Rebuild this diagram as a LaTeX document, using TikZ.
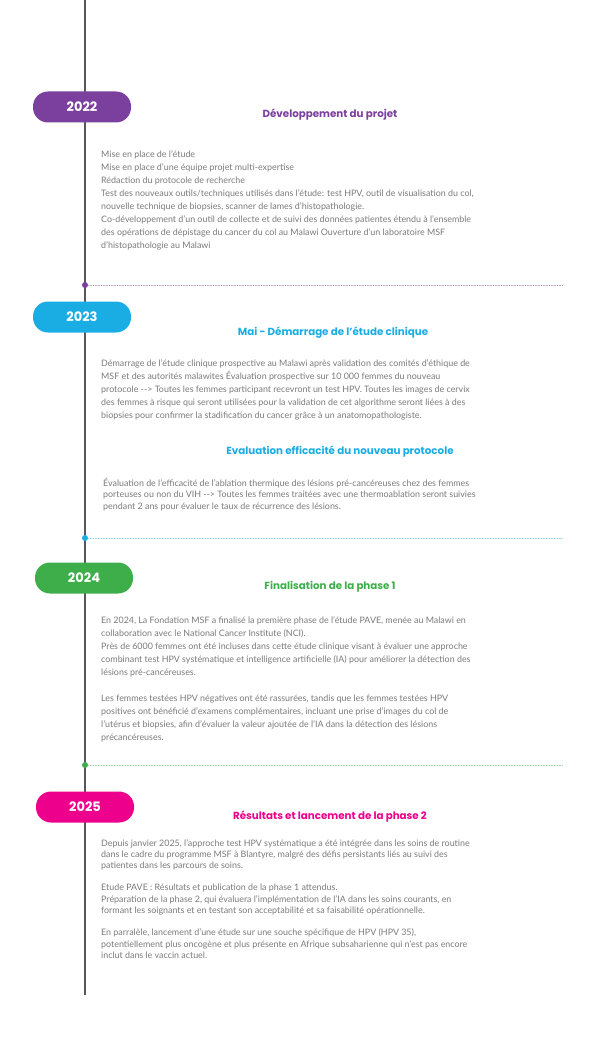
\documentclass[tikz,border=0pt]{standalone}
\usepackage{fontspec}
\setmainfont{Lato}
\newfontfamily\titlefont{Poppins}
\definecolor{cpur}{HTML}{7B3F9E}
\definecolor{cblu}{HTML}{1AADE4}
\definecolor{cgrn}{HTML}{3DAE49}
\definecolor{cpnk}{HTML}{EC008C}
\definecolor{ctxt}{HTML}{7A7A7A}
\definecolor{cline}{HTML}{5A5560}
\begin{document}
\begin{tikzpicture}[x=1pt,y=-1pt,
  pill/.style={fill=#1,rounded corners=15pt,minimum width=98pt,minimum height=31pt,inner sep=0,text=white,font=\titlefont\bfseries\fontsize{13}{15}\selectfont},
  ttl/.style={text=#1,font=\titlefont\bfseries\fontsize{10.3}{12}\selectfont,inner sep=0},
  body/.style={anchor=north west,inner sep=0,align=left,text=ctxt,font=\fontsize{8.9}{13}\selectfont},
  dotc/.style={circle,fill=#1,inner sep=0,minimum size=6pt},
  sep/.style={densely dotted,draw=#1!50,line width=0.6pt}]
\useasboundingbox (0,0) rectangle (600,1043);
\coordinate (top) at (85,0);
\coordinate (bot) at (85,995);
\draw[cline,line width=1.1pt] (top) -- (bot);
% 2022
\node[pill=cpur] (y1) at (82,107) {2022};
\node[ttl=cpur] (t1) at (330,115) {Développement du projet};
\node[body] (b1) at (101,150) {Mise en place de l’étude\\Mise en place d’une équipe projet multi-expertise\\Rédaction du protocole de recherche\\Test des nouveaux outils/techniques utilisés dans l’étude: test HPV, outil de visualisation du col,\\nouvelle technique de biopsies, scanner de lames d’histopathologie.\\Co-développement d’un outil de collecte et de suivi des données patientes étendu à l’ensemble\\des opérations de dépistage du cancer du col au Malawi Ouverture d’un laboratoire MSF\\d’histopathologie au Malawi};
\node[dotc=cpur] (d1) at (85,285) {};
\coordinate (e1) at (563,285);
\draw[sep=cpur] (d1) -- (e1);
% 2023
\node[pill=cblu] (y2) at (82,317) {2023};
\node[ttl=cblu] (t2) at (333,333) {Mai - Démarrage de l’étude clinique};
\node[body] (b2) at (101,359) {Démarrage de l’étude clinique prospective au Malawi après validation des comités d’éthique de\\MSF et des autorités malawites Évaluation prospective sur 10 000 femmes du nouveau\\protocole -{}-{}> Toutes les femmes participant recevront un test HPV. Toutes les images de cervix\\des femmes à risque qui seront utilisées pour la validation de cet algorithme seront liées à des\\biopsies pour confirmer la stadification du cancer grâce à un anatomopathologiste.};
\node[ttl=cblu] (t3) at (340,452) {Evaluation efficacité du nouveau protocole};
\node[body,font=\fontsize{8.9}{11.5}\selectfont] (b3) at (103,478) {Évaluation de l’efficacité de l’ablation thermique des lésions pré-cancéreuses chez des femmes\\porteuses ou non du VIH -{}-{}> Toutes les femmes traitées avec une thermoablation seront suivies\\pendant 2 ans pour évaluer le taux de récurrence des lésions.};
\node[dotc=cblu] (d2) at (85,538) {};
\coordinate (e2) at (563,538);
\draw[sep=cblu] (d2) -- (e2);
% 2024
\node[pill=cgrn] (y3) at (84,578) {2024};
\node[ttl=cgrn] (t4) at (330,587) {Finalisation de la phase 1};
\node[body] (b4) at (101,616) {En 2024, La Fondation MSF a finalisé la première phase de l’étude PAVE, menée au Malawi en\\collaboration avec le National Cancer Institute (NCI).\\Près de 6000 femmes ont été incluses dans cette étude clinique visant à évaluer une approche\\combinant test HPV systématique et intelligence artificielle (IA) pour améliorer la détection des\\lésions pré-cancéreuses.\\[13pt]Les femmes testées HPV négatives ont été rassurées, tandis que les femmes testées HPV\\positives ont bénéficié d’examens complémentaires, incluant une prise d’images du col de\\l’utérus et biopsies, afin d’évaluer la valeur ajoutée de l’IA dans la détection des lésions\\précancéreuses.};
\node[dotc=cgrn] (d3) at (85,765) {};
\coordinate (e3) at (563,765);
\draw[sep=cgrn] (d3) -- (e3);
% 2025
\node[pill=cpnk] (y4) at (85,807) {2025};
\node[ttl=cpnk] (t5) at (330,817) {Résultats et lancement de la phase 2};
\node[body,font=\fontsize{8.9}{11.3}\selectfont] (b5) at (101,839) {Depuis janvier 2025, l’approche test HPV systématique a été intégrée dans les soins de routine\\dans le cadre du programme MSF à Blantyre, malgré des défis persistants liés au suivi des\\patientes dans les parcours de soins.\\[11pt]Etude PAVE : Résultats et publication de la phase 1 attendus.\\Préparation de la phase 2, qui évaluera l’implémentation de l’IA dans les soins courants, en\\formant les soignants et en testant son acceptabilité et sa faisabilité opérationnelle.\\[11pt]En parralèle, lancement d’une étude sur une souche spécifique de HPV (HPV 35),\\potentiellement plus oncogène et plus présente en Afrique subsaharienne qui n’est pas encore\\inclut dans le vaccin actuel.};
\end{tikzpicture}
\end{document}
